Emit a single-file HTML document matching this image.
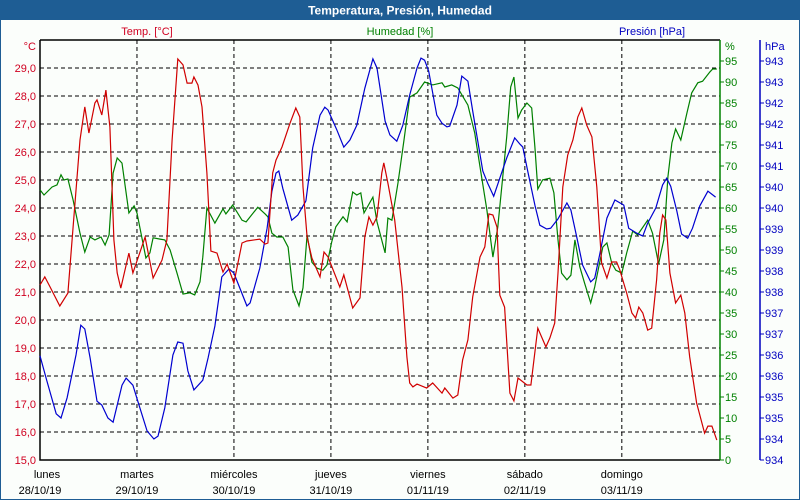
<!DOCTYPE html>
<html><head><meta charset="utf-8"><style>
body{margin:0;background:#fff}
svg{display:block;font-family:"Liberation Sans",sans-serif}
</style></head><body>
<svg id="c" width="800" height="500" xmlns="http://www.w3.org/2000/svg">
<rect x="0" y="0" width="800" height="500" fill="#fbfefb" stroke="#1e5d94" stroke-width="2"/>
<rect x="0" y="0" width="800" height="20" fill="#1e5d94"/>
<text x="400" y="14.5" text-anchor="middle" fill="#fff" font-size="12" font-weight="bold">Temperatura, Presión, Humedad</text>
<text x="147" y="35" text-anchor="middle" fill="#d00020" font-size="11">Temp. [°C]</text>
<text x="400" y="35" text-anchor="middle" fill="#008000" font-size="11">Humedad [%]</text>
<text x="652" y="35" text-anchor="middle" fill="#0000c0" font-size="11">Presión [hPa]</text>
<text x="36" y="50" text-anchor="end" fill="#d00020" font-size="11">°C</text>
<text x="725" y="50" fill="#008000" font-size="11">%</text>
<text x="765" y="50" fill="#0000c0" font-size="11">hPa</text>
<g id="grid"></g><g id="axes"></g><g id="series"></g>
</svg>
<script>
const tempH=[0,1.2,2.5,4.9,6.9,8.2,9.9,11.1,12.1,13.6,14.1,15.3,16.3,17.3,18.3,19.1,20,22,23,26,28,30.2,31.4,32.7,34.1,35.4,36.4,37.6,38.1,39.1,40.1,41.3,42.3,43.8,45.3,46.3,48,50,51.2,54.4,55.7,56.4,57.6,58.4,59.9,61.9,63.3,64.3,65.1,66.1,67.3,69.3,70.3,71.3,74.2,75.2,77.4,79.2,80.4,81.4,82.4,83.4,84.6,85.1,86.1,87.8,89.6,90.8,91.5,92.3,93.3,95.7,97.2,99.5,100.2,102.2,103.4,104.6,105.9,107.1,108.9,110.1,111.1,112.1,113.1,113.8,115,116.3,117.3,118.3,120.5,121.5,123.2,125.2,126.2,127.4,128.2,129.4,130.6,131.9,133.1,134.1,135.3,136.6,137.8,139,140.3,141.5,142.7,143.5,145.2,146.5,147.4,148.2,149.2,150.4,151.4,152.6,153.4,154.1,154.9,155.9,157.3,158.6,159.6,160.8,162.5,164.5,165.3,166.3,167.5];
const tempV=[21.25,21.54,21.18,20.5,20.96,23.32,26.43,27.61,26.68,27.75,27.86,27.32,28.21,26.89,22.86,21.68,21.14,22.39,21.68,22.96,21.5,22.14,22.86,26.43,29.32,29.11,28.46,28.46,28.68,28.39,27.61,25.25,22.46,22.39,21.71,22,21.32,22.75,22.82,22.89,22.71,22.75,25.25,25.71,26.18,27.04,27.57,27.25,24.75,22.96,22.21,21.54,22.43,22.25,21.18,21.61,20.43,20.79,22.96,23.68,23.39,23.68,25.25,25.61,24.89,23.57,21.18,18.68,17.75,17.61,17.71,17.57,17.75,17.39,17.57,17.21,17.32,18.57,19.29,20.82,22.25,22.61,23.79,23.75,23.32,20.89,20.46,17.39,17.11,17.93,17.68,17.68,19.71,19.04,19.36,19.89,21.68,24.75,25.89,26.43,27.25,27.57,26.96,26.54,24.75,22.04,21.5,22.07,22.07,21.79,20.96,20.25,20.07,20.46,20.25,19.64,19.71,21.43,23.11,23.75,23.57,21.68,20.61,20.89,20.25,18.68,17.04,15.96,16.21,16.21,15.71];
const humH=[0,1,3,4.2,5.2,5.9,6.9,8.2,9.9,11.1,12.4,13.6,15.1,16.1,17.1,18.1,19.1,20.3,22,23.3,24,26.2,27.2,28,29.7,30.9,32.2,33.9,35.4,37.1,38.3,39.6,40.3,41.3,43.3,45.3,46,47.7,50,51,53.9,55.7,56.4,57.4,58.6,60.1,61.4,62.6,64.1,65.1,66.1,67.3,68.5,70,71,72.2,73.2,75,76,77.4,78.4,79.4,80.2,82.4,83.4,85.4,86.1,87.1,88.6,90.1,91.5,93.3,95.2,97.2,99.5,100.2,101.9,103.4,105.9,107.6,108.9,110.6,112.1,113.3,115.5,116.5,117.3,118.3,119.2,120.5,121.7,122.5,123.2,124.4,126.2,127.2,128.2,129.1,130.4,131.4,132.4,133.6,134.8,136.3,137.3,139.3,140.3,141.5,142.5,144,145.2,146.7,147.9,150.4,151.6,153.1,154.4,155.4,156.4,157.3,158.6,160.1,161.3,162.8,164,165.8,166.5,167.5];
const humV=[64.3,63.1,65,65.5,67.9,66.7,66.9,61.9,54,49.5,53.1,52.4,53.1,51.2,53.6,68.3,71.9,70.7,58.8,60.5,58.8,48.1,49.3,52.9,52.6,52.4,50,44.5,39.5,39.8,39.3,42.4,48.3,60,56.4,59.8,58.6,60.7,57.1,56.7,60.2,58.6,57.9,54,53.1,53.1,50.7,40.5,36.7,41,53.6,47.1,45.7,45.2,46.4,51.9,55.5,57.9,56.7,63.8,63.1,63.6,58.8,62.6,56.7,49.3,57.6,57.1,66,76.2,86.4,87.4,90,89.3,89.8,88.8,89.3,88.6,84.5,77.9,69.8,59.5,48.3,55.5,76.9,88.8,91.2,81.4,83.3,85,83.8,74.5,64.5,66.7,67.1,63.6,52.4,44.5,42.9,44,52.4,46,42.1,37.4,41.2,50.7,51.7,46.9,45.2,44.5,49.3,54.5,53.6,57.1,54,46.7,52.4,67.4,75.5,78.8,76.2,82.6,87.4,89.8,90.2,92.4,93.1,93.1];
const presH=[0,1.7,4,5.2,6.7,8.9,10.1,11.1,12.4,14.1,15.3,16.8,18.1,20.3,21.3,23,24.2,26.5,28.2,29.2,30.9,32.9,34.1,35.4,36.6,38.1,40.3,41.6,43.3,45,46.8,48,51.2,52,54.4,56.2,57.4,58.4,59.1,60.1,62.3,63.8,65.8,67.5,69.3,70.5,71.3,73.5,75.2,76.7,78.4,80.4,82.4,83.4,85.4,86.6,88.3,89.8,91.5,93.3,94.3,95.2,96.2,98.2,99.5,100.7,101.4,103.2,104.4,105.9,107.1,109.6,110.8,112.3,113.8,115.5,117.5,118.8,119.5,120.7,122.5,123.7,125.4,126.4,128.2,130.4,131.4,132.9,134.3,136.3,137.3,138.5,140.3,142.3,144.5,145.7,147.7,149.2,150.4,152.4,154.1,155.1,156.1,157.6,158.8,160.3,161.5,163.3,165.3,167.2];
const presV=[936.03,935.43,934.65,934.55,935.03,936.05,936.76,936.67,935.98,934.95,934.86,934.55,934.45,935.33,935.5,935.33,934.95,934.24,934.05,934.12,934.79,936.05,936.36,936.33,935.67,935.22,935.45,935.98,936.74,937.91,938.1,938,937.22,937.29,938.12,939.07,939.95,940.38,940.43,940.02,939.26,939.38,939.72,940.98,941.76,941.95,941.88,941.4,941,941.17,941.52,942.4,943.1,942.88,941.62,941.29,941.14,941.52,942.24,942.88,943.12,943.07,942.81,941.76,941.57,941.48,941.5,942,942.69,942.57,941.86,940.43,940.14,939.83,940.26,940.74,941.22,941.07,941,940.43,939.62,939.14,939.05,939.07,939.29,939.67,939.5,938.83,938.19,937.79,937.88,938.43,939.31,939.74,939.62,939.07,938.95,938.88,939.19,939.55,940.1,940.26,940.07,939.48,938.93,938.83,939.07,939.6,939.95,939.81];
const tempTicks=["15,0","16,0","17,0","18,0","19,0","20,0","21,0","22,0","23,0","24,0","25,0","26,0","27,0","28,0","29,0"];
const humTicks=["0","5","10","15","20","25","30","35","40","45","50","55","60","65","70","75","80","85","90","95"];
const presTicks=["934","934","935","935","936","936","937","937","938","938","939","939","940","940","941","941","942","942","943","943"];
const dayNames=["lunes","martes","miércoles","jueves","viernes","sábado","domingo"];
const dayDates=["28/10/19","29/10/19","30/10/19","31/10/19","01/11/19","02/11/19","03/11/19"];

const L=40,R=720,T=40,B=460,NS="http://www.w3.org/2000/svg";
const xS=h=>L+h*(R-L)/168.3;
const yT=v=>B-(v-15)*(B-T)/15;
const yH=v=>B-v*(B-T)/100;
const yP=v=>B-(v-933.55)*(B-T)/10;
function mk(tag,attrs,parent,txt){const e=document.createElementNS(NS,tag);for(const k in attrs)e.setAttribute(k,attrs[k]);if(txt!==undefined)e.textContent=txt;parent.appendChild(e);return e;}
const grid=document.getElementById('grid'),axes=document.getElementById('axes'),ser=document.getElementById('series');
tempTicks.forEach((t,i)=>{const y=yT(15+i);
 if(i>0){const g=mk('line',{x1:L,x2:R,y1:y,y2:y,stroke:'#000','stroke-dasharray':'4,3','stroke-width':1},grid);
 
 }
 const tx=mk('text',{x:36,y:y+4,'text-anchor':'end',fill:'#d00020','font-size':11},axes,t);
 
 });
dayNames.forEach((d,i)=>{const x=xS(i*24);
 if(i>0){const g=mk('line',{x1:x,x2:x,y1:T,y2:B,stroke:'#000','stroke-dasharray':'4,3','stroke-width':1},grid);
 
 }
 const a=mk('text',{x:x+(i==0?7:0),y:478,'text-anchor':'middle',fill:'#000','font-size':11},axes,d);
 
 
 const b=mk('text',{x:x,y:494,'text-anchor':'middle',fill:'#000','font-size':11},axes,dayDates[i]);
 
 });
humTicks.forEach((t,i)=>{const y=yH(i*5);
 mk('line',{x1:R,x2:R+4,y1:y,y2:y,stroke:'#008000'},axes);
 const a=mk('text',{x:725,y:y+4,fill:'#008000','font-size':11},axes,t);
 
 
 const p=yP(933.6+i*0.5);
 mk('line',{x1:760,x2:764,y1:y,y2:y,stroke:'#0000c0'},axes);
 const b=mk('text',{x:765,y:y+4,fill:'#0000c0','font-size':11},axes,presTicks[i]);
 
 });
const ax=[['M40 40V460H720','#000','x-axis'],['M40 40H720','#000','top-border'],['M720 40V460','#008000','humidity-axis'],['M760 40V460','#0000c0','pressure-axis']];
ax.forEach(a=>{const e=mk('path',{d:a[0],stroke:a[1],fill:'none','stroke-width':1.5},axes);
 
 });
function line(H,V,ys,col,name){const d=H.map((h,i)=>(i?'L':'M')+xS(h).toFixed(1)+' '+ys(V[i]).toFixed(1)).join('');
 const e=mk('path',{d:d,stroke:col,fill:'none','stroke-width':1.2},ser);
 
 }
line(humH,humV,yH,'#008000','humidity-line');
line(presH,presV,yP,'#0000d0','pressure-line');
line(tempH,tempV,yT,'#d00000','temperature-line');
</script>
</body></html>
